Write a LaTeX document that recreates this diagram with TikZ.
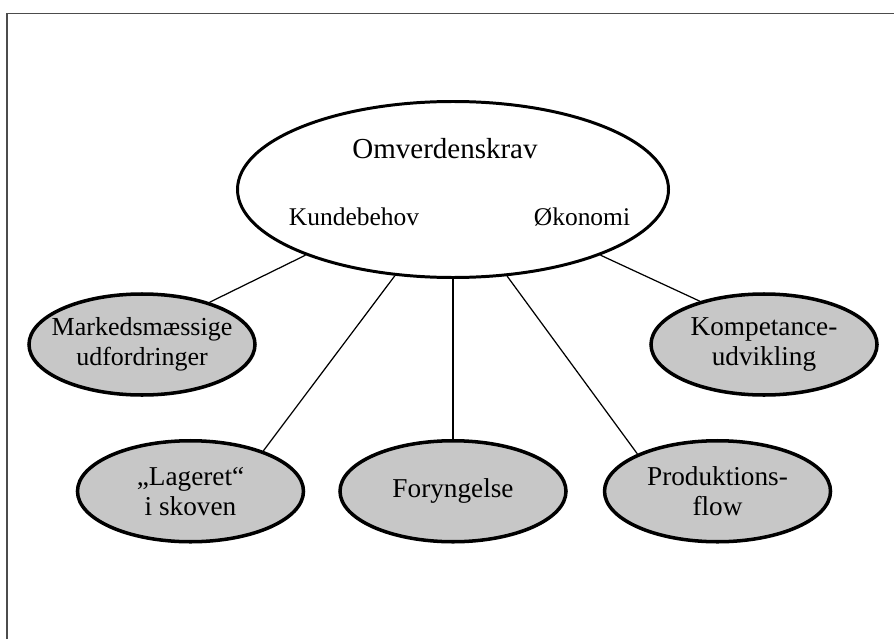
\documentclass[tikz,border=0pt]{standalone}
\usepackage{fontspec}
\setmainfont{Liberation Serif}
\usetikzlibrary{positioning,shapes.geometric}

\begin{document}
\begin{tikzpicture}[
  hub/.style = {
    ellipse, draw=black, line width=1.7pt, fill=white,
    minimum width=8.62cm, minimum height=3.52cm,
  },
  leaf/.style = {
    ellipse, draw=black, line width=2pt, fill=black!22,
    minimum width=4.52cm, minimum height=2.02cm, align=center,
    inner xsep=-0.4cm, inner ysep=0pt,
    font=\fontsize{15.5}{17}\selectfont,
  },
  word/.style = {anchor=base, font=\fontsize{14.5}{16}\selectfont},
  link/.style = {line width=0.7pt, draw=black},
  node distance=3.2cm and 0.66cm,
]
  \useasboundingbox (0,0) rectangle (17.88,12.78);
  % frame (only top and left edge show)
  \draw[black!70, line width=0.6pt] (0.14,0) -- (0.14,12.51) -- (17.88,12.51);

  \node[hub] (env) at (9.06,8.99) {};
  \node[word, font=\fontsize{16.5}{18}\selectfont] (envtitle) at (8.9,9.62) {Omverdenskrav};
  \node[word] (kunde) at (7.08,8.28) {Kundebehov};
  \node[word] (oko) at (11.64,8.28) {Økonomi};

  \node[leaf, font=\fontsize{14.8}{17}\selectfont] (mark) at (2.84,5.89) {Markedsmæssige\\udfordringer};
  \node[leaf] (komp) at (15.28,5.89) {Kompetance-\\udvikling};
  \node[leaf, below=of env] (fory) {Foryngelse};
  \node[leaf, left=of fory] (lag) {„Lageret“\\i skoven};
  \node[leaf, right=0.7cm of fory] (prod) {Produktions-\\flow};

  \draw[link] (env.204) -- (mark.32);
  \draw[link] (env.236) -- (lag.29);
  \draw[link] (fory.north) -- (fory.north |- env.south);
  \draw[link] (env.302) -- (prod.155);
  \draw[link] (env.336) -- (komp.146);
\end{tikzpicture}
\end{document}
